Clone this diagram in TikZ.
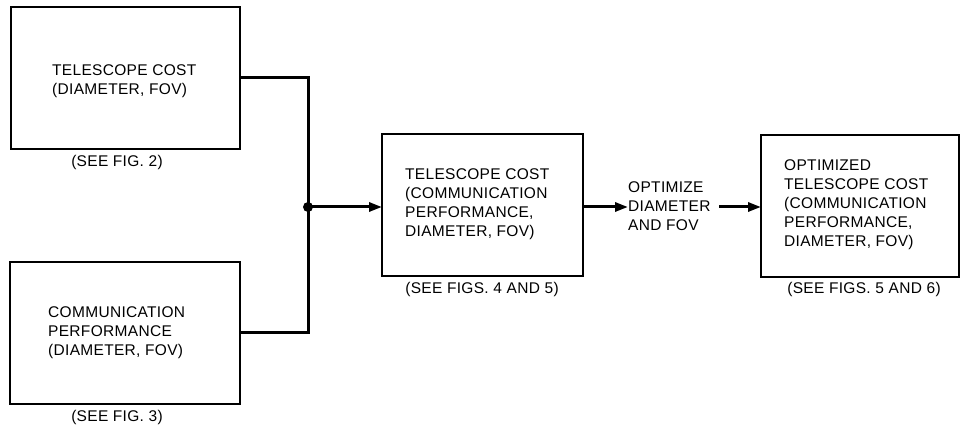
\documentclass[tikz,border=0pt]{standalone}
\usepackage{fontspec}
\setmainfont[LetterSpace=2]{Liberation Sans}
\usetikzlibrary{arrows.meta}
\begin{document}
\begin{tikzpicture}[x=1pt,y=-1pt,
  box/.style={draw,line width=2pt,minimum width=#1,minimum height=142pt,inner sep=0pt,outer sep=0pt},
  txt/.style={align=left,inner sep=0pt,anchor=west,font=\fontsize{15.5}{19}\selectfont},
  captxt/.style={inner sep=0pt,font=\fontsize{15.5}{19}\selectfont},
  conn/.style={line width=3pt},
  arr/.style={line width=3pt,-{Triangle[length=13pt,width=9pt]}}]
\useasboundingbox (0,0) rectangle (962,430);
\node[box=229pt] (b1) at (125.5,78) {};
\node[box=230pt] (b2) at (125,333) {};
\node[box=201pt] (b3) at (482.5,205.5) {};
\node[box=198pt] (b4) at (860,206) {};
\node[txt] (t1) at (52,81) {TELESCOPE COST\\(DIAMETER, FOV)};
\node[txt] (t2) at (48,333) {COMMUNICATION\\PERFORMANCE\\(DIAMETER, FOV)};
\node[txt] (t3) at (405,204) {TELESCOPE COST\\(COMMUNICATION\\PERFORMANCE,\\DIAMETER, FOV)};
\node[txt] (t4) at (784,205) {OPTIMIZED\\TELESCOPE COST\\(COMMUNICATION\\PERFORMANCE,\\DIAMETER, FOV)};
\node[txt] (opt) at (628,206) {OPTIMIZE\\DIAMETER\\AND FOV};
\node[captxt] (c1) at (117,162) {(SEE FIG. 2)};
\node[captxt] (c2) at (117,417) {(SEE FIG. 3)};
\node[captxt] (c3) at (482,289) {(SEE FIGS. 4 AND 5)};
\node[captxt] (c4) at (864,289) {(SEE FIGS. 5 AND 6)};
\coordinate (j) at (308,207);
\coordinate (o2) at (719,207);
\draw[conn] (b1.east |- 0,78) -| (j);
\draw[conn] (b2.east |- 0,333) -| (j);
\fill (j) circle (5pt);
\draw[arr] (j) -- (b3.west |- j);
\draw[arr] (b3.east |- j) -- (opt.west |- j);
\draw[arr] (o2) -- (b4.west |- j);
\end{tikzpicture}
\end{document}
